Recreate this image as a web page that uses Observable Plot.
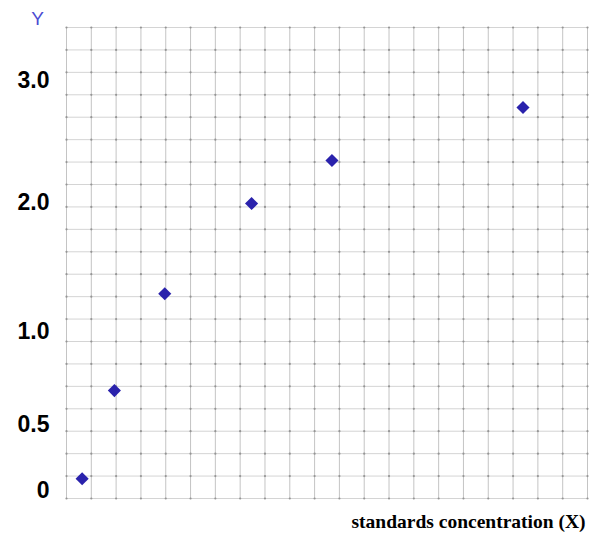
<!DOCTYPE html>
<html>
<head>
<meta charset="utf-8">
<script src="https://cdn.jsdelivr.net/npm/d3@7"></script>
<script src="https://cdn.jsdelivr.net/npm/@observablehq/plot@0.6"></script>
<style>
  html, body { margin: 0; padding: 0; background: #fff; }
</style>
</head>
<body>
<div id="chart"></div>
<script>
// Point positions, in grid-cell units (21 x 21 grid)
const xValues = [0.63, 1.93, 3.96, 7.46, 10.70, 18.40];
const yValues = [0.88, 4.81, 9.13, 13.15, 15.07, 17.43];

// Y-axis labels and where they sit on the grid (grid-row units)
const yTickLabels = ["0", "0.5", "1.0", "2.0", "3.0"];
const yTickPositions = [0.36, 3.30, 7.45, 13.21, 18.64];

const gridCells = 21;
const xTitle = "standards concentration (X)";
const yTitle = "Y";

const points = xValues.map((x, i) => ({x, y: yValues[i]}));
const labelMap = new Map(yTickPositions.map((p, i) => [p, yTickLabels[i]]));
const gridSteps = d3.range(0, gridCells + 1);
const crossings = d3.cross(gridSteps, gridSteps);

const chart = Plot.plot({
  width: 600,
  height: 551,
  marginLeft: 66,
  marginRight: 13,
  marginTop: 27,
  marginBottom: 53,
  x: {domain: [0, gridCells], axis: null},
  y: {domain: [0, gridCells], axis: null},
  style: {fontFamily: "'Liberation Sans', Arial, sans-serif", background: "white", color: "black"},
  marks: [
    Plot.ruleY(gridSteps, {stroke: "#d4d4d4", strokeWidth: 1}),
    Plot.ruleX(gridSteps, {stroke: "#c4c4c4", strokeWidth: 1}),
    Plot.dot(crossings, {x: d => d[0], y: d => d[1], r: 1.1, fill: "#959595", stroke: null}),
    Plot.dot(points, {x: "x", y: "y", symbol: "diamond2", r: 5.9, fill: "#2a22ac", stroke: null}),
    Plot.axisY(yTickPositions, {
      tickSize: 0, tickPadding: 17, label: null,
      tickFormat: d => labelMap.get(d),
      fontSize: 23, fontWeight: "bold", fill: "black"
    }),
    Plot.text([yTitle], {
      frameAnchor: "top-left", dx: -29, dy: -9, text: d => d,
      lineAnchor: "middle",
      fill: "#4b4bd2", fontSize: 19, textAnchor: "middle"
    }),
    Plot.text([xTitle], {
      frameAnchor: "bottom-right", dx: -2, dy: 23, text: d => d,
      lineAnchor: "middle",
      fontFamily: "'Liberation Serif', 'Times New Roman', serif",
      fontWeight: "bold", fontSize: 19.5, fill: "black"
    })
  ]
});

document.getElementById("chart").appendChild(chart);
</script>
</body>
</html>
